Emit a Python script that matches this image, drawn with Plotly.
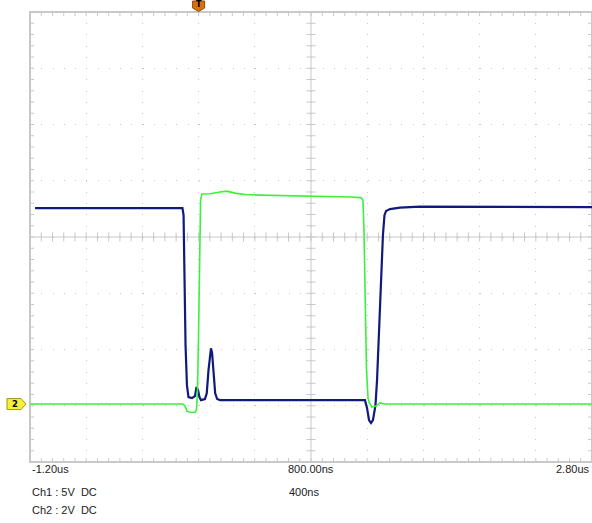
import plotly.graph_objects as go

# ---------------- scope settings ----------------
T_START, T_END = -1200.0, 2800.0      # ns, 10 divisions
TIME_DIV = 400.0                      # ns / div
CH1_VDIV = 5.0                        # V / div
CH2_VDIV = 2.0                        # V / div
CH1_GND_DIV = -2.90                   # ground reference position (div)
CH2_GND_DIV = -2.97

# ---------------- data ----------------
ch1_t = [-1164, -118, -115, -107, -100, -93, -83, -72, -47, -26, -15, -4, 6, 17,
         45, 58, 70, 82, 88, 96, 106, 118, 132, 152, 1184, 1199, 1213, 1227, 1241, 1259,
         1270, 1284, 1298, 1312, 1323, 1334, 1362, 1433, 1576, 2800]
ch1_v = [17.07, 17.07, 17.07, 16.44, 8.89, 4.89, 1.33, 0.27, 0.18, 0.36, 1.16, 0.89,
         0.27, 0.0, 0.09, 0.6, 2.6, 4.3, 4.6, 4.2, 2.2, 0.6, 0.1, 0.0, 0.0, -0.71, -1.78,
         -2.04, -1.78, -0.44, 1.78, 6.22, 10.67, 14.67, 16.44, 16.8, 16.98, 17.11,
         17.2, 17.16]

ch2_t = [-1200, -111, -97, -83, -68, -26, -15, -8, -1, 6, 14, 24, 81, 152, 202,
         259, 330, 437, 793, 1078, 1156, 1170, 1177, 1184, 1195, 1206, 1213, 1234,
         1263, 1291, 1327, 2800]
ch2_v = [0.0, 0.0, -0.07, -0.25, -0.28, -0.30, -0.21, 0.50, 2.28, 5.12, 7.25, 7.47,
         7.48, 7.54, 7.57, 7.50, 7.45, 7.43, 7.40, 7.36, 7.34, 7.25, 6.19, 3.70, 1.21,
         0.21, 0.07, -0.11, -0.07, 0.04, 0.0, 0.0]

x_labels = ["-1.20us", "800.00ns", "2.80us"]
ch_labels = ["Ch1 : 5V\u00a0\u00a0DC", "Ch2 : 2V\u00a0\u00a0DC"]
timebase_label = "400ns"

# ---------------- figure ----------------
W, H = 592, 523
ML, MR, MT, MB = 30, 0, 12, 61
PW, PH = W - ML - MR, H - MT - MB
GRID = "#c8c8c8"
BLUE = "#0f1a7c"
GREEN = "#3cf03c"

fig = go.Figure()
fig.add_trace(go.Scatter(x=ch2_t, y=ch2_v, yaxis="y3", mode="lines",
                         line=dict(color=GREEN, width=1.6), hoverinfo="skip"))
fig.add_trace(go.Scatter(x=ch1_t, y=ch1_v, yaxis="y2", mode="lines",
                         line=dict(color=BLUE, width=2.2), hoverinfo="skip"))

ndiv_x, ndiv_y = 10, 8
px_per_ns = PW / (T_END - T_START)
px_per_div = PH / ndiv_y

def ns(pix):
    return pix / px_per_ns

def dv(pix):
    return pix / px_per_div

# minor ticks on borders and centre cross
parts = []
tick = 4
for i in range(1, ndiv_x * 5):
    t = T_START + i * TIME_DIV / 5
    parts.append(f"M{t},{ndiv_y/2} L{t},{ndiv_y/2 - dv(tick)}")
    parts.append(f"M{t},{-ndiv_y/2} L{t},{-ndiv_y/2 + dv(tick)}")
    parts.append(f"M{t},{-dv(4.5)} L{t},{dv(4.5)}")
tc = T_START + TIME_DIV * ndiv_x / 2
for j in range(1, ndiv_y * 5):
    d = -ndiv_y / 2 + j * 0.2
    parts.append(f"M{T_START},{d} L{T_START + ns(tick)},{d}")
    parts.append(f"M{T_END},{d} L{T_END - ns(tick)},{d}")
    parts.append(f"M{tc - ns(4.5)},{d} L{tc + ns(4.5)},{d}")

shapes = [
    dict(type="path", path=" ".join(parts), xref="x", yref="y",
         line=dict(color=GRID, width=1), layer="below"),
    dict(type="line", xref="x", yref="paper", x0=tc, x1=tc, y0=0, y1=1,
         line=dict(color=GRID, width=1), layer="below"),
    dict(type="line", xref="paper", yref="y", x0=0, x1=1, y0=0, y1=0,
         line=dict(color=GRID, width=1), layer="below"),
    dict(type="rect", xref="paper", yref="paper", x0=0, x1=1, y0=0, y1=1,
         line=dict(color=GRID, width=2), layer="below"),
]

def pxp(x):
    return (x - ML) / PW

def pyp(y):
    return (H - MB - y) / PH

# trigger marker at t = 0
t0 = 0.0
tp = ML + (t0 - T_START) * px_per_ns
trig = [(tp - 6, 1), (tp + 6, 1), (tp + 6, 8), (tp, 11.5), (tp - 6, 8)]
shapes.append(dict(type="path", xref="paper", yref="paper",
                   path="M" + " L".join(f"{pxp(a)},{pyp(b)}" for a, b in trig) + " Z",
                   fillcolor="#d8700f", line=dict(color="#9a4a08", width=1)))

# ch2 ground marker
gy = MT + (ndiv_y / 2 - CH2_GND_DIV) * px_per_div
mk = [(7, gy - 5.5), (21, gy - 5.5), (26, gy), (21, gy + 5.5), (7, gy + 5.5)]
shapes.append(dict(type="path", xref="paper", yref="paper",
                   path="M" + " L".join(f"{pxp(a)},{pyp(b)}" for a, b in mk) + " Z",
                   fillcolor="#f6f03a", line=dict(color="#9a9a10", width=1)))

FONT = dict(family="Liberation Sans, Arial, sans-serif", size=11, color="#222222")
ann = [
    dict(text="<b>T</b>", x=pxp(tp), y=pyp(4.8), font=dict(family="DejaVu Sans", size=8, color="black")),
    dict(text="<b>2</b>", x=pxp(15), y=pyp(gy), font=dict(family="DejaVu Sans", size=8.5, color="black")),
    dict(text=x_labels[0], x=0, y=pyp(469), xanchor="left", font=FONT),
    dict(text=x_labels[1], x=0.5, y=pyp(469), xanchor="center", font=FONT),
    dict(text=x_labels[2], x=1, y=pyp(469), xanchor="right", font=FONT),
    dict(text=ch_labels[0], x=0, y=pyp(492), xanchor="left", font=FONT),
    dict(text=timebase_label, x=pxp(304), y=pyp(492), xanchor="center", font=FONT),
    dict(text=ch_labels[1], x=0, y=pyp(510), xanchor="left", font=FONT),
]
for a in ann:
    a.setdefault("xanchor", "center")
    a.update(xref="paper", yref="paper", yanchor="middle", showarrow=False)

dash_x = f"1px,{PW / ndiv_x / 5 - 1:.2f}px"
dash_y = f"1px,{PH / ndiv_y / 5 - 1:.2f}px"

fig.update_layout(
    width=W, height=H,
    margin=dict(l=ML, r=MR, t=MT, b=MB, pad=0),
    paper_bgcolor="white", plot_bgcolor="white",
    showlegend=False,
    shapes=shapes, annotations=ann,
    xaxis=dict(range=[T_START, T_END], tick0=T_START, dtick=TIME_DIV,
               showgrid=True, gridcolor=GRID, gridwidth=1, griddash=dash_x,
               zeroline=False, showline=False, showticklabels=False, ticks=""),
    yaxis=dict(range=[-ndiv_y / 2, ndiv_y / 2], tick0=0, dtick=1,
               showgrid=True, gridcolor=GRID, gridwidth=1, griddash=dash_y,
               zeroline=False, showline=False, showticklabels=False, ticks=""),
    yaxis2=dict(overlaying="y", visible=False,
                range=[(-ndiv_y / 2 - CH1_GND_DIV) * CH1_VDIV, (ndiv_y / 2 - CH1_GND_DIV) * CH1_VDIV]),
    yaxis3=dict(overlaying="y", visible=False,
                range=[(-ndiv_y / 2 - CH2_GND_DIV) * CH2_VDIV, (ndiv_y / 2 - CH2_GND_DIV) * CH2_VDIV]),
)

fig.write_html("out.html")
